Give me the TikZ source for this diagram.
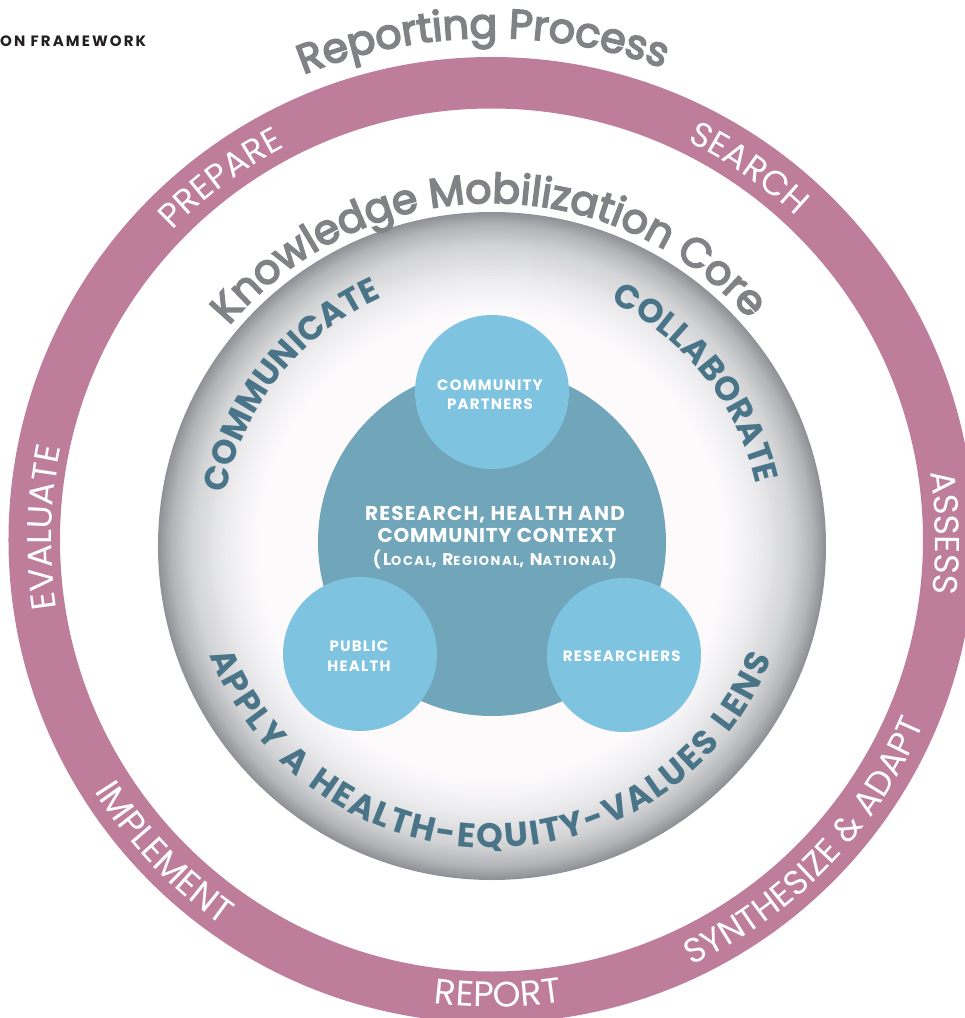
\documentclass[tikz,border=0pt]{standalone}
\usepackage{fontspec}
\setmainfont{Poppins}
\newfontfamily\titleFont{Poppins}[FakeBold=4]
\newcommand\lsp{\kern2pt}
\newcommand\wsp{\kern3pt}
\usetikzlibrary{decorations.text}
\definecolor{ringpink}{HTML}{BD7D9B}
\definecolor{ctxteal}{HTML}{71A5B9}
\definecolor{lightblue}{HTML}{7EC3E0}
\definecolor{tealtext}{HTML}{4A7588}
\definecolor{greytext}{HTML}{808285}
\definecolor{headtext}{HTML}{231F20}
\definecolor{gA}{HTML}{FDFAFC}
\definecolor{gB}{HTML}{EDEDEF}
\definecolor{gC}{HTML}{D3D4D6}
\definecolor{gD}{HTML}{B3B5B8}
\definecolor{gE}{HTML}{8F9196}
\newcommand\ArcCW[6]{\path[shift={(#1)},decorate,decoration={text along path,text align=center,text color=#6,text={#5}}] ({#2+#4}:#3) arc[start angle={#2+#4}, end angle={#2-#4}, radius=#3];}
\newcommand\ArcCCW[6]{\path[shift={(#1)},decorate,decoration={text along path,text align=center,text color=#6,text={#5}}] ({#2-#4}:#3) arc[start angle={#2-#4}, end angle={#2+#4}, radius=#3];}
\begin{document}
\begin{tikzpicture}[x=1pt,y=1pt,
  blob/.style={circle, inner sep=0pt, draw=none},
  intext/.style={inner sep=0pt, anchor=base, text=white, font=\bfseries\fontsize{15}{18}\selectfont\addfontfeatures{LetterSpace=8}}]
\useasboundingbox (-491.5,-478) rectangle (473.5,540);
\clip (-491.5,-478) rectangle (473.5,540);
\coordinate (rc) at (0,0);
\coordinate (gc) at (0.5,-6);
% outer ring
\fill[ringpink, even odd rule] (rc) circle[radius=483] (rc) circle[radius=431.5];
% grey globe: concentric bands from the dark rim to the white centre
\foreach \ra/\rb/\ca/\cb in {334/320.6/gE/gD, 320.6/300.6/gD/gC, 300.6/267.2/gC/gB, 267.2/233.8/gB/gA}{
  \foreach \k in {0,...,11}{
    \pgfmathsetmacro\rr{\ra-(\ra-\rb)*\k/12}
    \pgfmathsetmacro\pp{100*\k/12}
    \fill[\cb!\pp!\ca] (gc) circle[radius=\rr];
  }
}
\fill[gA] (gc) circle[radius=233.8];
% context circle and partner circles
\node[blob, fill=ctxteal, minimum size=348pt] (ctx) at (0.5,-2) {};
\node[blob, fill=lightblue, minimum size=154pt] (cp) at (0.5,148) {};
\node[blob, fill=lightblue, minimum size=154pt] (ph) at (-131.5,-114) {};
\node[blob, fill=lightblue, minimum size=154pt] (rs) at (132.5,-115) {};
% inner texts
\node[intext] (cpA) at (-1.5,149.3) {COMMUNITY};
\node[intext] (cpB) at (-1.5,131) {PARTNERS};
\node[intext] (phA) at (-132.5,-111.7) {PUBLIC};
\node[intext] (phB) at (-132.5,-131.7) {HEALTH};
\node[intext] (rsA) at (130.2,-121.7) {RESEARCHERS};
\node[intext, font=\bfseries\fontsize{20}{24}\selectfont\addfontfeatures{LetterSpace=6}] (ctxA) at (3.5,19.3) {RESEARCH, HEALTH AND};
\node[intext, font=\bfseries\fontsize{20}{24}\selectfont\addfontfeatures{LetterSpace=4}] (ctxB) at (5.5,-2.7) {COMMUNITY CONTEXT};
\node[intext, font=\bfseries\fontsize{17}{20}\selectfont\addfontfeatures{LetterSpace=12}] (ctxC) at (3.5,-25) {(L{\fontsize{13}{14}\selectfont OCAL}, R{\fontsize{13}{14}\selectfont EGIONAL}, N{\fontsize{13}{14}\selectfont ATIONAL})};
% header
\node[inner sep=0pt, anchor=base west, text=headtext, font=\bfseries\fontsize{15}{17}\selectfont\addfontfeatures{LetterSpace=14}] (hdr) at (-491.5,493) {ON FRAMEWORK};
% titles
\ArcCW{rc}{91}{502}{60}{|\titleFont\fontsize{41}{44}\selectfont|Reporting Process}{greytext}
\ArcCW{gc}{90.7}{343}{80}{|\titleFont\fontsize{41}{44}\selectfont|Knowledge Mobilization Core}{greytext}
% ring labels
\ArcCW{rc}{126.8}{444}{40}{|\fontsize{34.5}{36}\selectfont|PREPARE}{white}
\ArcCW{rc}{55.3}{444}{40}{|\fontsize{34.5}{36}\selectfont|SEARCH}{white}
\ArcCW{rc}{0.9}{444}{40}{|\fontsize{34.5}{36}\selectfont|ASSESS}{white}
\ArcCW{rc}{178.4}{440}{40}{|\fontsize{34.5}{36}\selectfont|EVALUATE}{white}
\ArcCCW{rc}{223.7}{470}{40}{|\fontsize{35.5}{36}\selectfont|IMPLEMENT}{white}
\ArcCCW{rc}{270.8}{467}{40}{|\fontsize{35.5}{36}\selectfont|REPORT}{white}
\ArcCCW{rc}{316.1}{470}{40}{|\fontsize{34.5}{36}\selectfont|SYNTHESIZE {\&} ADAPT}{white}
% core labels
\ArcCW{gc}{141.4}{271.5}{60}{|\bfseries\fontsize{33.5}{38}\selectfont|COMMUNICATE}{tealtext}
\ArcCW{gc}{38.6}{271.5}{60}{|\bfseries\fontsize{33.5}{38}\selectfont|COLLABORATE}{tealtext}
\ArcCCW{gc}{269.6}{302}{85}{|\bfseries\fontsize{34}{38}\selectfont|{A\lsp}{P\lsp}{P\lsp}{L\lsp}{Y\lsp} {\wsp}{A\lsp} {\wsp}{H\lsp}{E\lsp}{A\lsp}{L\lsp}{T\lsp}{H\lsp}{-\lsp}{E\lsp}{Q\lsp}{U\lsp}{I\lsp}{T\lsp}{Y\lsp}{-\lsp}{V\lsp}{A\lsp}{L\lsp}{U\lsp}{E\lsp}{S\lsp} {\wsp}{L\lsp}{E\lsp}{N\lsp}{S}}{tealtext}
\end{tikzpicture}
\end{document}
